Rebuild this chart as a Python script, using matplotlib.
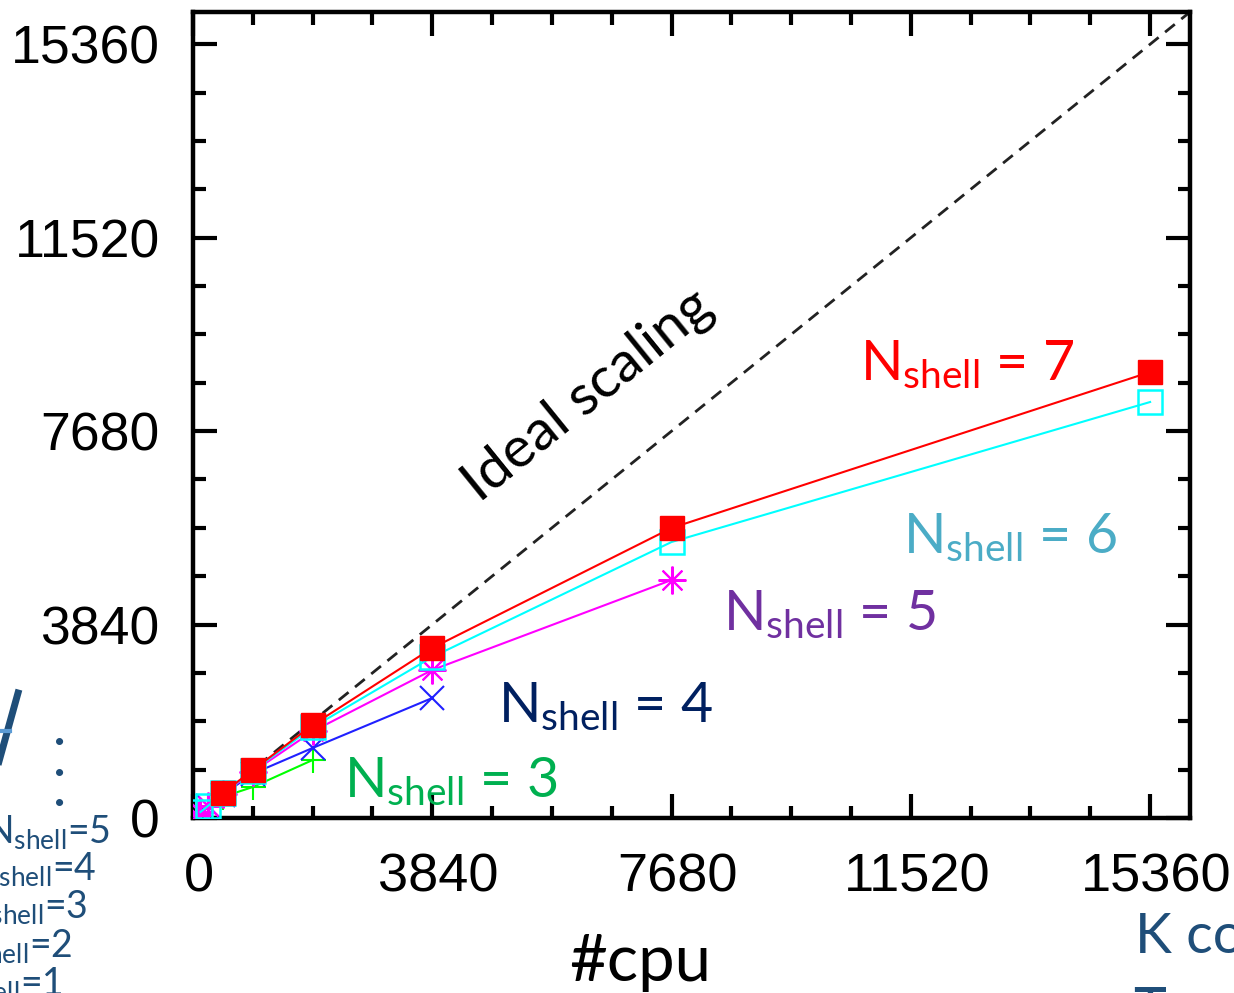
# Parallel speed-up vs #cpu for several Nshell values (slide crop)
import matplotlib.pyplot as plt
import matplotlib.transforms as mtransforms
from matplotlib.lines import Line2D
from matplotlib.ticker import MultipleLocator

plt.rcParams['mathtext.fontset'] = 'custom'
plt.rcParams['mathtext.rm'] = 'Lato'
plt.rcParams['mathtext.it'] = 'Lato:italic'
plt.rcParams['mathtext.bf'] = 'Lato:bold'

# ============================
# Data
# ============================

ideal_cpu = [0, 16000]
ideal_speed = [0, 16000]

n3_cpu = [60, 120, 240, 480, 960, 1920]
n3_speed = [60, 118, 230, 420, 615, 1151]

n4_cpu = [60, 120, 240, 480, 960, 1920, 3840]
n4_speed = [60, 119, 236, 465, 880, 1390, 2382]

n5_cpu = [60, 120, 240, 480, 960, 1920, 3840, 7680]
n5_speed = [60, 119, 237, 480, 915, 1720, 2938, 4724]

n6_cpu = [120, 240, 480, 960, 1920, 3840, 7680, 15360]
n6_speed = [120, 238, 488, 940, 1800, 3196, 5479, 8258]

n7_cpu = [480, 960, 1920, 3840, 7680, 15360]
n7_speed = [496, 953, 1846, 3375, 5757, 8853]

ticks = [0, 3840, 7680, 11520, 15360]

# ============================
# Figure
# ============================

W, H = 1234, 993
fig = plt.figure(figsize=(W / 100, H / 100), dpi=100)
ax = fig.add_axes([193 / W, 1 - 818 / H, (1190 - 193) / W, (818 - 12) / H])

ax.plot(ideal_cpu, ideal_speed, color="#222222", lw=2, dashes=(4.5, 3), zorder=1)

ax.plot(n3_cpu, n3_speed, color="#00ff00", lw=1.5, marker="+", ms=18, mew=1.5, zorder=2)
ax.plot(n4_cpu, n4_speed, color="#2020ff", lw=1.5, marker="x", ms=17, mew=1.5, zorder=3)
ax.plot(n5_cpu, n5_speed, color="#ff00ff", lw=1.5, marker=(8, 2, 0), ms=20, mew=1.5, zorder=4)
ax.plot(n6_cpu, n6_speed, color="#00ffff", lw=1.5, marker="s", ms=17, mew=1.8,
        markerfacecolor="none", zorder=5)
ax.plot(n7_cpu, n7_speed, color="#ff0000", lw=1.5, marker="s", ms=17, mew=1,
        markerfacecolor="#ff0000", zorder=6)

ax.set_xlim(0, 16000)
ax.set_ylim(0, 16000)
ax.set_xticks(ticks)
ax.set_yticks(ticks)
ax.xaxis.set_minor_locator(MultipleLocator(960))
ax.yaxis.set_minor_locator(MultipleLocator(960))

for s in ax.spines.values():
    s.set_linewidth(3.2)

ax.tick_params(which="both", direction="in", top=True, right=True, width=3)
ax.tick_params(which="major", length=17)
ax.tick_params(which="minor", length=9)
ax.tick_params(axis="y", which="major", pad=24)
ax.tick_params(axis="x", which="major", pad=25)

shift = mtransforms.ScaledTranslation(6 / 100, 0, fig.dpi_scale_trans)
for lab in ax.get_xticklabels():
    lab.set_fontfamily("Liberation Sans")
    lab.set_fontsize(39)
    lab.set_transform(lab.get_transform() + shift)
for lab in ax.get_yticklabels():
    lab.set_fontfamily("Liberation Sans")
    lab.set_fontsize(38.5)

# ============================
# Annotations
# ============================

ax.text(6332, 8397, "Ideal scaling", rotation=39, rotation_mode="anchor",
        ha="center", va="center", fontsize=41, family="Lato", color="black")

labels = [
    (10708, 8694, "7", "#ff0000"),
    (11397, 5260, "6", "#4bacc6"),
    (8512, 3732, "5", "#7030a0"),
    (4889, 1906, "4", "#002060"),
    (2420, 417, "3", "#00b050"),
]
for x, y, n, c in labels:
    ax.text(x, y, "N$_{\\mathrm{shell}}$ = " + n, color=c, fontsize=40,
            family="Lato", ha="left", va="baseline", zorder=7)

fig.text(640 / W, 1 - 962 / H, "#cpu", fontsize=47, family="Lato",
         ha="center", va="center")

# ============================
# Slide leftovers around the chart
# ============================

blue = "#1f4e79"
side = [(110, 843, "5"), (97, 880, "4"), (88, 918, "3"), (73, 957, "2"), (63, 995, "1")]
for x, y, n in side:
    fig.text(x / W, 1 - y / H, "N$_{\\mathrm{shell}}$=" + n, color=blue,
             fontsize=27, family="Lato", ha="right", va="baseline")

fig.text(60 / W, 1 - 806 / H, ".\n.\n.", color=blue, fontsize=34, family="Lato",
         weight="bold", ha="center", va="baseline", linespacing=0.62)

fig.add_artist(Line2D([18 / W, -2 / W], [1 - 693 / H, 1 - 765 / H],
                      transform=fig.transFigure, color=blue, lw=5))
fig.add_artist(Line2D([0, 10 / W], [1 - 731 / H, 1 - 731 / H],
                      transform=fig.transFigure, color="#5b9bd5", lw=3))

fig.text(1135 / W, 1 - 953 / H, "K co", color=blue, fontsize=40, family="Lato",
         ha="left", va="baseline")
fig.text(1133 / W, 1 - 986 / H, "T", color=blue, fontsize=40, family="Lato",
         ha="left", va="top")

fig.savefig("out.png", dpi=100)
